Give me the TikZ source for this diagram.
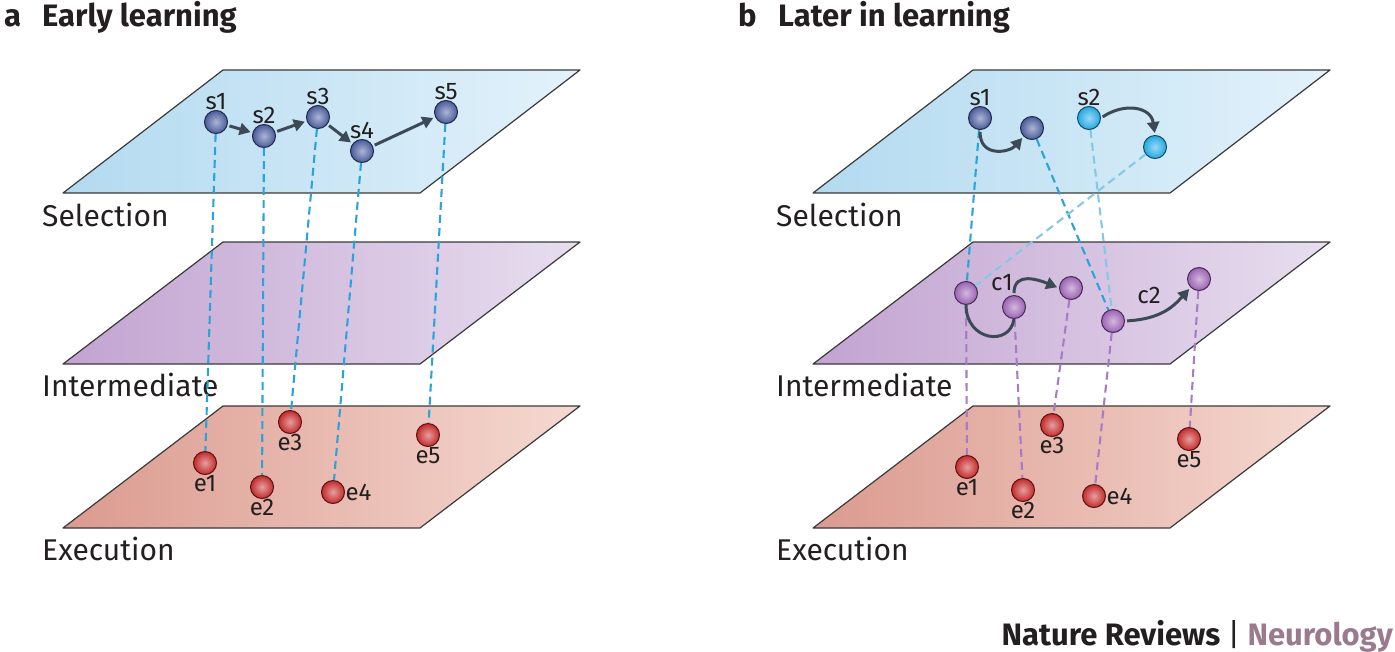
\documentclass[tikz,border=0pt]{standalone}
\usepackage{fontspec}
\setmainfont{Fira Sans}
\usetikzlibrary{arrows.meta}

\definecolor{txt}{HTML}{231F20}
\definecolor{edgec}{HTML}{3A3A3A}
\definecolor{arrowc}{HTML}{3C4A55}
\definecolor{selL}{HTML}{B3DAF0}
\definecolor{selR}{HTML}{E3F2FB}
\definecolor{intL}{HTML}{C2A3D1}
\definecolor{intR}{HTML}{E8DEEF}
\definecolor{exeL}{HTML}{DB9A8F}
\definecolor{exeR}{HTML}{F5D9D1}
\definecolor{sdark}{HTML}{4A5B9C}
\definecolor{slight}{HTML}{22A8E3}
\definecolor{cball}{HTML}{9C62B4}
\definecolor{eball}{HTML}{C42A2A}
\definecolor{dashA}{HTML}{2BA3D9}
\definecolor{dashL}{HTML}{85C8E6}
\definecolor{dashP}{HTML}{A77CC4}
\definecolor{neuro}{HTML}{9A7A8E}

\begin{document}
\begin{tikzpicture}[x=1pt,y=-1pt,
	plane/.style={draw=edgec, line width=1.2pt, line join=round},
	ball/.style={circle, inner sep=0pt, minimum size=23pt, inner color=#1!45!white, outer color=#1, draw=#1!45!black, line width=1pt},
	lbl/.style={font=\fontsize{24}{26}\selectfont, text=txt},
	level/.style={font=\fontsize{30}{34}\selectfont, text=txt, anchor=base west, inner sep=0pt},
	head/.style={font=\bfseries\fontsize{31}{35}\selectfont, text=txt, anchor=base west, inner sep=0pt},
	link/.style={line width=2.1pt, dash pattern=on 8pt off 5pt},
	move/.style={draw=arrowc, line width=3pt, -{Triangle[length=11pt,width=12pt]}, shorten >=2pt, shorten <=2pt},
	every label/.style={lbl}, label distance=-3pt]
			\useasboundingbox (0,0) rectangle (1395,651);
			\shade[plane, left color=selL, right color=selR] (223,70) -- (580,70) -- (420,193) -- (63,193) -- cycle;
			\shade[plane, left color=intL, right color=intR] (223,242) -- (580,242) -- (420,364) -- (63,364) -- cycle;
			\shade[plane, left color=exeL, right color=exeR] (223,406) -- (580,406) -- (420,528) -- (63,528) -- cycle;
			\shade[plane, left color=selL, right color=selR] (973,70) -- (1330,70) -- (1170,193) -- (813,193) -- cycle;
			\shade[plane, left color=intL, right color=intR] (973,242) -- (1330,242) -- (1170,364) -- (813,364) -- cycle;
			\shade[plane, left color=exeL, right color=exeR] (973,406) -- (1330,406) -- (1170,528) -- (813,528) -- cycle;
			\node[head] (atag) at (4,26) {a};
			\node[head] (atitle) at (42,26) {Early learning};
			\node[head] (btag) at (738,26) {b};
			\node[head] (btitle) at (778,26) {Later in learning};
			\node[level] (asel) at (42,226) {Selection};
			\node[level] (aint) at (42,396) {Intermediate};
			\node[level] (aexe) at (42,560) {Execution};
			\node[level] (bsel) at (776,226) {Selection};
			\node[level] (bint) at (776,396) {Intermediate};
			\node[level] (bexe) at (776,560) {Execution};
			\node[ball=sdark, label=above:s1] (as1) at (216,122) {};
			\node[ball=sdark, label=above:s2] (as2) at (264,136) {};
			\node[ball=sdark, label=above:s3] (as3) at (318,117) {};
			\node[ball=sdark, label=above:s4] (as4) at (362,151) {};
			\node[ball=sdark, label=above:s5] (as5) at (446,112) {};
			\node[ball=eball, label=below:e1] (ae1) at (205,463) {};
			\node[ball=eball, label=below:e2] (ae2) at (262,487) {};
			\node[ball=eball, label=below:e3] (ae3) at (290,422) {};
			\node[ball=eball, label=right:e4] (ae4) at (333,492) {};
			\node[ball=eball, label=below:e5] (ae5) at (428,435) {};
			\draw[link, dashA] (as1) -- (ae1);
			\draw[link, dashA] (as2) -- (ae2);
			\draw[link, dashA] (as3) -- (ae3);
			\draw[link, dashA] (as4) -- (ae4);
			\draw[link, dashA] (as5) -- (ae5);
			\draw[move] (as1) -- (as2);
			\draw[move] (as2) -- (as3);
			\draw[move] (as3) -- (as4);
			\draw[move] (as4) -- (as5);
			\node[ball=sdark, label=above:s1] (bs1) at (980,118) {};
			\node[ball=sdark] (bs1x) at (1032,128) {};
			\node[ball=slight, label=above:s2] (bs2) at (1089,118) {};
			\node[ball=slight] (bs2x) at (1155,147) {};
			\node[ball=cball] (bi1) at (966,293) {};
			\node[ball=cball] (bi2) at (1014,307) {};
			\node[ball=cball] (bi3) at (1071,288) {};
			\node[ball=cball] (bi4) at (1113,321) {};
			\node[ball=cball] (bi5) at (1199,279) {};
			\node[lbl] (c1) at (1002,283) {c1};
			\node[lbl] (c2) at (1149,295) {c2};
			\node[ball=eball, label=below:e1] (be1) at (967,467) {};
			\node[ball=eball, label=below:e2] (be2) at (1023,490) {};
			\node[ball=eball, label=below:e3] (be3) at (1052,425) {};
			\node[ball=eball, label=right:e4] (be4) at (1094,496) {};
			\node[ball=eball, label=below:e5] (be5) at (1189,439) {};
			\draw[link, dashA] (bs1) -- (bi1);
			\draw[link, dashA] (bs1x) -- (bi4);
			\draw[link, dashL] (bs2) -- (bi4);
			\draw[link, dashL] (bs2x) -- (bi1);
			\draw[link, dashP] (bi1) -- (be1);
			\draw[link, dashP] (bi2) -- (be2);
			\draw[link, dashP] (bi3) -- (be3);
			\draw[link, dashP] (bi4) -- (be4);
			\draw[link, dashP] (bi5) -- (be5);
			\draw[move] (bs1.south) .. controls +(0,28) and +(-14,16) .. (bs1x.south west);
			\draw[move] (bs2.east) .. controls +(24,-16) and +(-4,-28) .. (bs2x.north);
			\draw[arrowc, line width=3pt] (bi1.south) .. controls +(0,36) and +(-4,28) .. (bi2.south);
			\draw[move] (bi2.north) .. controls +(0,-24) and +(-20,-8) .. (bi3.west);
			\draw[move] (bi4.east) .. controls +(35,-2) and +(-18,20) .. (bi5.south west);
			\node[head, anchor=base east] (journal) at (1393,645) {Nature Reviews {\mdseries|} \textcolor{neuro}{Neurology}};
\end{tikzpicture}
\end{document}
